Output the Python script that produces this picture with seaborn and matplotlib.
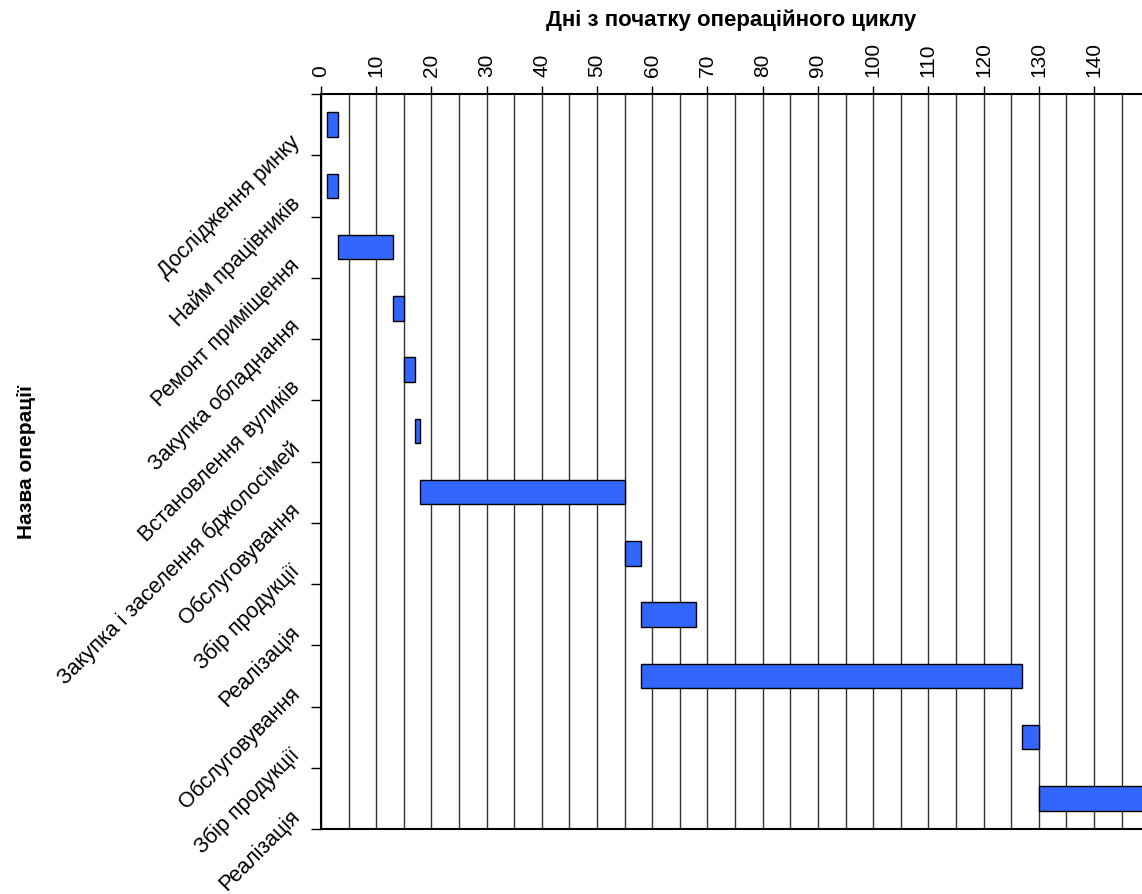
import matplotlib
matplotlib.use("Agg")
import matplotlib.pyplot as plt
import matplotlib.transforms as mtransforms
from matplotlib.ticker import MultipleLocator, FixedLocator
import pandas as pd
import seaborn as sns

# -----------------------------
# Data: operations and their start / end day
# -----------------------------
operations = [
    "Дослідження ринку",
    "Найм працівників",
    "Ремонт приміщення",
    "Закупка обладнання",
    "Встановлення вуликів",
    "Закупка і заселення бджолосімей",
    "Обслуговування",
    "Збір продукції",
    "Реалізація",
    "Обслуговування",
    "Збір продукції",
    "Реалізація",
]
start_day = [1, 1, 3, 13, 15, 17, 18, 55, 58, 58, 127, 130]
end_day = [3, 3, 13, 15, 17, 18, 55, 58, 68, 127, 130, 150]
x_ticks = list(range(0, 150, 10))

df = pd.DataFrame({
    "step": range(len(operations)),
    "operation": operations,
    "start": start_day,
    "duration": [e - s for s, e in zip(start_day, end_day)],
})

# -----------------------------
# Plot
# -----------------------------
sns.set_theme(style="white")
plt.rcParams["font.family"] = ["Liberation Sans", "DejaVu Sans"]
plt.rcParams["text.color"] = "black"
plt.rcParams["axes.labelcolor"] = "black"
plt.rcParams["xtick.color"] = "black"
plt.rcParams["ytick.color"] = "black"

fig = plt.figure(figsize=(11.42, 8.95), dpi=100)
ax = fig.add_axes([321 / 1142, 1 - 830 / 895, (1142 - 321) / 1142, (830 - 95) / 895])

sns.barplot(data=df, x="duration", y="step", orient="h", left=df["start"],
            color="#3366FF", saturation=1, edgecolor="black", linewidth=1.0,
            width=0.4, zorder=3, ax=ax)

ax.set_xlim(0, 148.7)
ax.set_ylim(len(operations) - 0.5, -0.5)

# x axis on top
ax.xaxis.tick_top()
ax.xaxis.set_label_position("top")
ax.xaxis.set_major_locator(FixedLocator(x_ticks))
ax.xaxis.set_minor_locator(MultipleLocator(5))
ax.set_xticklabels([str(t) for t in x_ticks], rotation=90, fontsize=15)
ax.tick_params(axis="x", which="major", top=True, bottom=False, length=6, width=1,
               color="black", pad=7)
ax.tick_params(axis="x", which="minor", top=False, bottom=False, length=0)
ax.grid(True, axis="x", which="both", color="0.2", linewidth=1.0, zorder=0)
ax.set_axisbelow(True)

ax.set_xlabel("Дні з початку операційного циклу", fontsize=16, fontweight="bold")
ax.xaxis.set_label_coords(0.5, (830 - 20) / 735)
ax.xaxis.label.set_va("center")

# y axis: ticks at the boundaries, labels rotated
ax.yaxis.set_major_locator(FixedLocator([i - 0.5 for i in range(len(operations) + 1)]))
ax.set_yticklabels([])
ax.yaxis.set_minor_locator(FixedLocator(list(range(len(operations)))))
ax.set_yticklabels(operations, minor=True, fontsize=15.5, rotation=45,
                   ha="right", va="center", rotation_mode="anchor")
ax.tick_params(axis="y", which="major", left=True, length=7, width=1, color="black")
ax.tick_params(axis="y", which="minor", left=True, length=0, pad=0)
shift = mtransforms.ScaledTranslation(-24 / 100, -14 / 100, fig.dpi_scale_trans)
for lbl in ax.get_yticklabels(minor=True):
    lbl.set_transform(lbl.get_transform() + shift)

ax.set_ylabel("Назва операції", fontsize=15, fontweight="bold")
ax.yaxis.set_label_coords((27 - 321) / 821, 0.5)
ax.yaxis.label.set_va("center")

for side in ["top", "left", "bottom"]:
    ax.spines[side].set_color("black")
    ax.spines[side].set_linewidth(1.5)
ax.spines["right"].set_visible(False)

plt.savefig("out.png", dpi=100)
